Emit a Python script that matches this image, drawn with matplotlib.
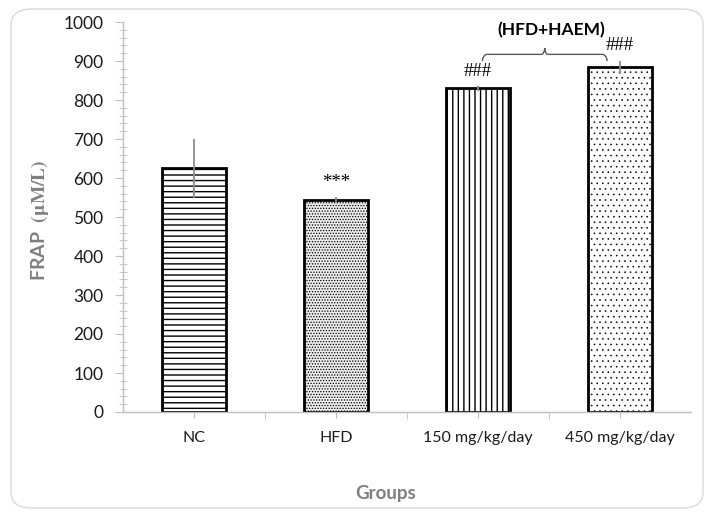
import numpy as np
import matplotlib
matplotlib.use("Agg")
import matplotlib.pyplot as plt
from matplotlib.patches import FancyBboxPatch
from matplotlib.path import Path
from matplotlib.patches import PathPatch
from matplotlib.ticker import MultipleLocator

plt.rcParams['font.family'] = ['Lato', 'DejaVu Sans']
plt.rcParams['mathtext.fontset'] = 'stix'
plt.rcParams['hatch.color'] = '#808080'
plt.rcParams['hatch.linewidth'] = 1.0

# data
groups = ['NC', 'HFD', '150 mg/kg/day', '450 mg/kg/day']
frap = [625, 543, 830, 884]
frap_err = [75, 8, 6, 17]
marks = ['', '***', '###', '###']
hatches = ['---', '......', '|||', '...']
faces = ['white', '#ececec', 'white', 'white']
hatch_lw = [1.0, 0.6, 1.0, 0.4]

fig = plt.figure(figsize=(7.14, 5.17), dpi=100)
ax = fig.add_axes([123 / 714, 1 - 412 / 517, (691 - 123) / 714, (412 - 22) / 517])

x = np.arange(len(groups))
bars = ax.bar(x, frap, width=0.45, color=faces, edgecolor='black', linewidth=2,
              zorder=2)
for b, h, lw in zip(bars, hatches, hatch_lw):
    b.set_hatch(h)
    try:
        b.set_hatch_linewidth(lw)
    except AttributeError:
        pass
ax.errorbar(x, frap, yerr=frap_err, fmt='none', ecolor='#8c8c8c', elinewidth=1.3,
            capsize=0, zorder=3)

# significance marks
for xi, v, e, m in zip(x, frap, frap_err, marks):
    if m:
        ax.text(xi, v + e + 16, m, ha='center', va='bottom', fontsize=13.5,
                family='Liberation Serif', color='black')

# brace over treatment groups
x0, x1, xm = 2.03, 2.91, 2.47
yb, yt, yp = 900, 917, 933
verts = [(x0, yb), (x0 + 0.005, yt - 3), (x0 + 0.03, yt),
         (xm - 0.02, yt), (xm - 0.003, yt + 2), (xm, yp),
         (xm + 0.003, yt + 2), (xm + 0.02, yt),
         (x1 - 0.03, yt), (x1 - 0.005, yt - 3), (x1, yb)]
codes = [Path.MOVETO, Path.CURVE3, Path.CURVE3,
         Path.LINETO, Path.CURVE3, Path.CURVE3,
         Path.CURVE3, Path.CURVE3,
         Path.LINETO, Path.CURVE3, Path.CURVE3]
ax.add_patch(PathPatch(Path(verts, codes), fill=False, edgecolor='#595959',
                       linewidth=1.0, zorder=4))
ax.text(2.515, 979, '(HFD+HAEM)', ha='center', va='center', fontsize=12.5,
        fontweight='bold', color='black')

ax.set_xlim(-0.5, 3.5)
ax.set_ylim(0, 1000)
ax.set_xticks(x)
ax.set_xticklabels(groups)
ax.set_xticks([0.5, 1.5, 2.5], minor=True)
ax.yaxis.set_major_locator(MultipleLocator(100))
ax.yaxis.set_minor_locator(MultipleLocator(20))

for s in ['top', 'right']:
    ax.spines[s].set_visible(False)
for s in ['left', 'bottom']:
    ax.spines[s].set_color('#bfbfbf')
    ax.spines[s].set_linewidth(1.0)

ax.tick_params(axis='y', which='major', direction='out', length=6, color='#bfbfbf',
               labelsize=12.5, labelcolor='#1a1a1a', pad=8)
ax.tick_params(axis='y', which='minor', direction='inout', length=6, color='#bfbfbf')
ax.tick_params(axis='x', which='major', direction='out', length=4, color='#bfbfbf',
               labelsize=11.5, labelcolor='#1a1a1a', pad=10)
ax.tick_params(axis='x', which='minor', direction='out', length=5, color='#bfbfbf')

fig.text(40 / 714, 1 - 220 / 517, r'FRAP  $\mathbf{(\mu M/L)}$', rotation=90,
         ha='center', va='center', fontsize=14, fontweight='bold', color='#7f7f7f')
fig.text(386 / 714, 1 - 493 / 517, 'Groups', ha='center', va='center',
         fontsize=13.5, fontweight='bold', color='#7f7f7f')

# rounded frame around the chart
frame = FancyBboxPatch((11 / 714, 1 - 508 / 517), (703 - 11) / 714, (508 - 9) / 517,
                       boxstyle='round,pad=0,rounding_size=0.03',
                       transform=fig.transFigure, fill=False,
                       edgecolor='#d9d9d9', linewidth=1.0)
fig.patches.append(frame)

fig.savefig('out.png', dpi=100)
